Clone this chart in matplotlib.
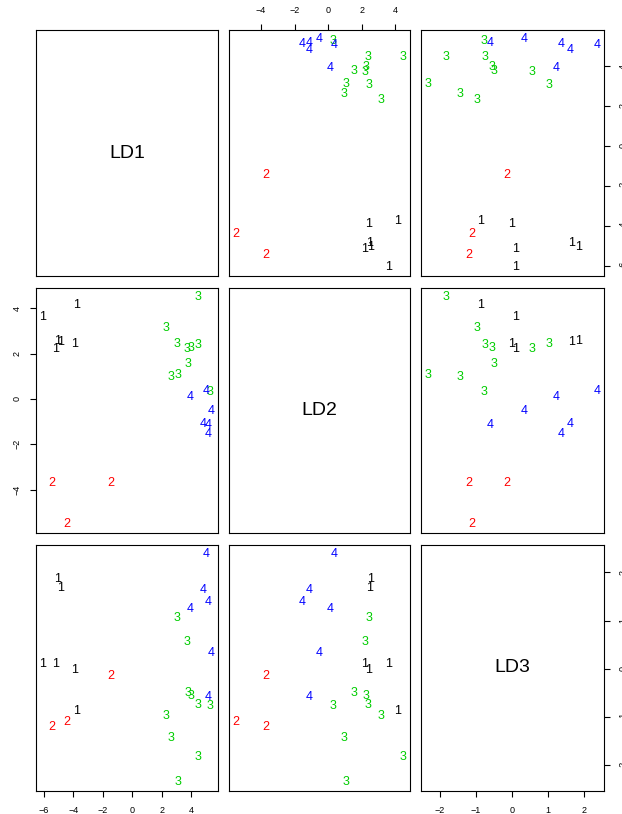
import numpy as np
import matplotlib
matplotlib.use("Agg")
import matplotlib.pyplot as plt

plt.rcParams['font.family'] = ['Liberation Sans', 'DejaVu Sans']

# Data: linear discriminant scores per observation, and class labels
cls = ["1"] * 6 + ["2"] * 3 + ["3"] * 10 + ["4"] * 6
LD1 = [-3.77, -6.06, -5.05, -4.85, -5.16, -3.90,
       -5.44, -1.46, -4.40,
       4.45, 2.28, 3.03, 3.68, 3.95, 4.45, 3.75, 2.60, 3.11, 5.28,
       5.03, 3.91, 5.35, 5.16, 4.80, 5.13]
LD2 = [4.14, 3.61, 2.55, 2.49, 2.20, 2.40,
       -3.71, -3.71, -5.51,
       4.49, 3.13, 2.43, 2.21, 2.25, 2.38, 1.52, 0.95, 1.07, 0.32,
       0.37, 0.10, -0.51, -1.15, -1.12, -1.56]
LD3 = [-0.87, 0.10, 1.86, 1.67, 0.10, -0.02,
       -1.21, -0.14, -1.10,
       -1.82, -0.97, 1.05, 0.56, -0.56, -0.74, -0.49, -1.43, -2.34, -0.76,
       2.38, 1.24, 0.34, -0.59, 1.63, 1.38]
var_names = ["LD1", "LD2", "LD3"]
class_colors = {"1": "black", "2": "#FF0000", "3": "#00CD00", "4": "#0000FF"}

data = [np.array(LD1), np.array(LD2), np.array(LD3)]
ticks = [[-6, -4, -2, 0, 2, 4], [-4, -2, 0, 2, 4], [-2, -1, 0, 1, 2]]


def lims(v):
    lo, hi = v.min(), v.max()
    r = hi - lo
    return lo - 0.04 * r, hi + 0.04 * r


def fmt(ts):
    return [str(t).replace("-", "\u2212") for t in ts]


W, H = 622, 814
fig = plt.figure(figsize=(W / 100, H / 100), dpi=100)

col_x = [(36, 218), (229, 410), (421, 604)]
row_y = [(30, 276), (288, 533), (545, 791)]

for i in range(3):
    for j in range(3):
        x0, x1 = col_x[j]
        y0, y1 = row_y[i]
        ax = fig.add_axes([x0 / W, 1 - y1 / H, (x1 - x0) / W, (y1 - y0) / H])
        for s in ax.spines.values():
            s.set_linewidth(0.8)
            s.set_color("black")
        ax.set_xlim(*lims(data[j]))
        ax.set_ylim(*lims(data[i]))
        ax.set_xticks([])
        ax.set_yticks([])
        if i == j:
            ax.text(0.5, 0.5, var_names[i], transform=ax.transAxes,
                    ha="center", va="center", fontsize=14)
        else:
            for xv, yv, c in zip(data[j], data[i], cls):
                ax.text(xv, yv, c, color=class_colors[c], ha="center",
                        va="center", fontsize=9)
        tp = dict(direction="out", length=4, width=0.8, labelsize=6.5, pad=6.5)
        if i == 2 and j in (0, 2):
            ax.set_xticks(ticks[j])
            ax.set_xticklabels(fmt(ticks[j]))
            ax.tick_params(axis="x", bottom=True, labelbottom=True, **tp)
        if i == 0 and j == 1:
            ax.set_xticks(ticks[j])
            ax.set_xticklabels(fmt(ticks[j]))
            ax.tick_params(axis="x", bottom=False, labelbottom=False,
                           top=True, labeltop=True, **tp)
        if j == 0 and i == 1:
            ax.set_yticks(ticks[i])
            ax.set_yticklabels(fmt(ticks[i]), rotation=90, va="center")
            ax.tick_params(axis="y", left=True, labelleft=True, **tp)
        if j == 2 and i in (0, 2):
            ax.set_yticks(ticks[i])
            ax.set_yticklabels(fmt(ticks[i]), rotation=90, va="center")
            ax.tick_params(axis="y", left=False, labelleft=False,
                           right=True, labelright=True, **tp)

fig.savefig("out.png", dpi=100)
